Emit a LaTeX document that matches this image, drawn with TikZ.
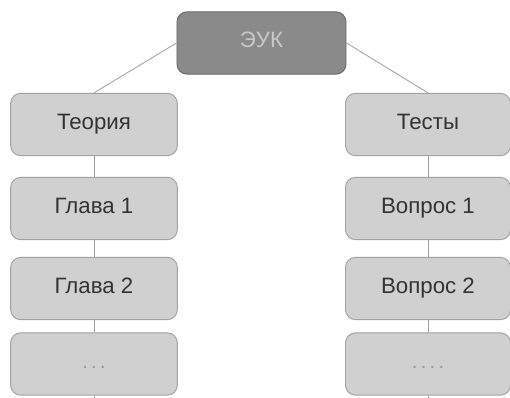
\documentclass[tikz,border=0pt]{standalone}
\usepackage{fontspec}
\setmainfont{Liberation Sans}
\usetikzlibrary{positioning}
\definecolor{boxfill}{HTML}{D0D0D0}
\definecolor{boxline}{HTML}{A2A2A2}
\definecolor{topfill}{HTML}{8A8A8A}
\definecolor{topline}{HTML}{6A6A6A}
\definecolor{toptext}{HTML}{C8C8C8}
\definecolor{linkgray}{HTML}{A0A0A0}
\begin{document}
\begin{tikzpicture}[x=0.03cm,y=-0.03cm,
        itembox/.style={draw=boxline,fill=boxfill,line width=0.8pt,rounded corners=0.3cm,
            minimum width=5.0cm,minimum height=1.87cm,inner sep=0pt,
            text height=1.6ex,text depth=0pt,
            font=\fontsize{19}{22}\selectfont,text=black!80},
        topbox/.style={itembox,draw=topline,fill=topfill,text=toptext,minimum width=5.07cm},
        dotstext/.style={text=black!40,font=\fontsize{17}{20}\selectfont},
        link/.style={draw=linkgray,line width=0.7pt}]
    \useasboundingbox (0,0) rectangle (510,398);
    % Top node
    \node[topbox] (euk) at (261.5,43) {ЭУК};
    % Left column
    \node[itembox] (teoria) at (94,124.5) {Теория};
    \node[itembox] (glava1) at (94,208.5) {Глава 1};
    \node[itembox] (glava2) at (94,288.5) {Глава 2};
    \node[itembox,dotstext] (ldots) at (94,364) {.\,.\,.};
    % Right column
    \node[itembox,minimum width=4.95cm] (testy) at (428,124.5) {Тесты};
    \node[itembox,minimum width=4.95cm] (vopros1) at (428,208.5) {Вопрос 1};
    \node[itembox,minimum width=4.95cm] (vopros2) at (428,288.5) {Вопрос 2};
    \node[itembox,dotstext,minimum width=4.95cm] (rdots) at (428,364) {.\,.\,.\,.};
    % Free ends at the bottom
    \coordinate (lend) at (94,398);
    \coordinate (rend) at (428,398);
    % Links
    \draw[link] (euk.west) -- (teoria.north);
    \draw[link] (euk.east) -- (testy.north);
    \draw[link] (teoria) -- (glava1);
    \draw[link] (glava1) -- (glava2);
    \draw[link] (glava2) -- (ldots);
    \draw[link] (ldots) -- (lend);
    \draw[link] (testy) -- (vopros1);
    \draw[link] (vopros1) -- (vopros2);
    \draw[link] (vopros2) -- (rdots);
    \draw[link] (rdots) -- (rend);
\end{tikzpicture}
\end{document}
